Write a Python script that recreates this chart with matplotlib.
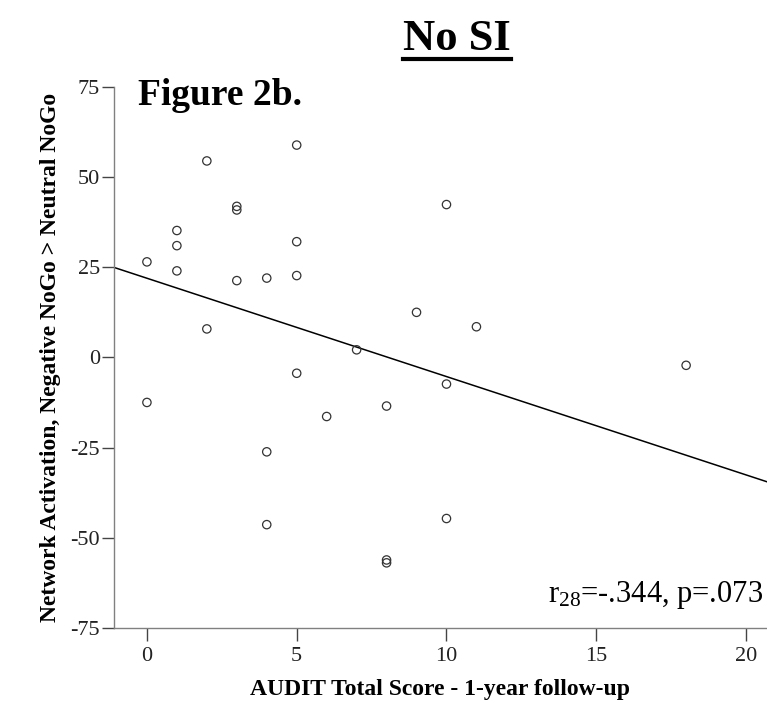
import numpy as np
import matplotlib
matplotlib.use("Agg")
import matplotlib.pyplot as plt
from matplotlib.lines import Line2D

# ---- data ----
audit_score = [0, 0, 1, 1, 1, 2, 2, 3, 3, 3, 4, 4, 4, 5, 5, 5, 5, 6, 7, 8, 8, 8, 9, 10, 10, 10, 11, 18]
network_act = [26.5, -12.5, 35.2, 31.0, 24.0, 54.5, 7.9, 41.9, 40.9, 21.3, 22.0, -26.2, -46.4,
               58.9, 32.1, 22.7, -4.4, -16.4, 2.1, -13.5, -56.2, -57.0, 12.5, 42.4, -7.4, -44.7, 8.5, -2.2]
x_ticks = [0, 5, 10, 15, 20]
y_ticks = [-75, -50, -25, 0, 25, 50, 75]
title = "No SI"
fig_label = "Figure 2b."
stat_text = r"r$_{28}$=-.344, p=.073"
x_label = "AUDIT Total Score - 1-year follow-up"
y_label = "Network Activation, Negative NoGo > Neutral NoGo"

plt.rcParams['font.family'] = ['Liberation Serif', 'DejaVu Serif']
plt.rcParams['mathtext.fontset'] = 'custom'
plt.rcParams['mathtext.rm'] = 'Liberation Serif'
plt.rcParams['mathtext.it'] = 'Liberation Serif:italic'
plt.rcParams['axes.unicode_minus'] = False

fig = plt.figure(figsize=(7.67, 7.02), dpi=100)
ax = fig.add_axes([0.1486, 0.1058, 0.8514, 0.7702])

xlim = (-1.1, 20.7)
ax.set_xlim(*xlim)
ax.set_ylim(-75, 75)

xs = np.array(audit_score, dtype=float)
ys = np.array(network_act, dtype=float)
slope, intercept = np.polyfit(xs, ys, 1)
lx = np.array(xlim)
ax.plot(lx, intercept + slope * lx, color='black', lw=1.1, zorder=2)

ax.scatter(xs, ys, s=36, facecolors='none', edgecolors='#333333', linewidths=0.9, zorder=3)

for s in ['top', 'right']:
    ax.spines[s].set_visible(False)
for s in ['left', 'bottom']:
    ax.spines[s].set_color('#808080')
    ax.spines[s].set_linewidth(1.0)

ax.set_xticks(x_ticks)
ax.set_yticks(y_ticks)
ax.tick_params(axis='both', direction='out', length=9, width=1.0, color='#444444',
               labelsize=16, labelcolor='#222222')
ax.tick_params(axis='x', pad=5)
ax.tick_params(axis='y', pad=1)

ax.set_xlabel(x_label, fontsize=17, fontweight='bold', labelpad=9)
ax.set_ylabel(y_label, fontsize=17, fontweight='bold', labelpad=7)

fig.text(138/767, 1 - 105/702, fig_label, fontsize=27, fontweight='bold', ha='left', va='baseline')
ttl = fig.text(457/767, 1 - 50/702, title, fontsize=32, fontweight='bold', ha='center', va='baseline')

ax.text(0.994, 0.047, stat_text, transform=ax.transAxes, fontsize=22, ha='right', va='baseline')

# underline for title
fig.canvas.draw()
bb = ttl.get_window_extent(renderer=fig.canvas.get_renderer())
uy = (702 - 58.5) / 702
fig.add_artist(Line2D([bb.x0 / 767, bb.x1 / 767], [uy, uy], color='black', lw=3.0,
                      transform=fig.transFigure))

fig.savefig("out.png", dpi=100)
